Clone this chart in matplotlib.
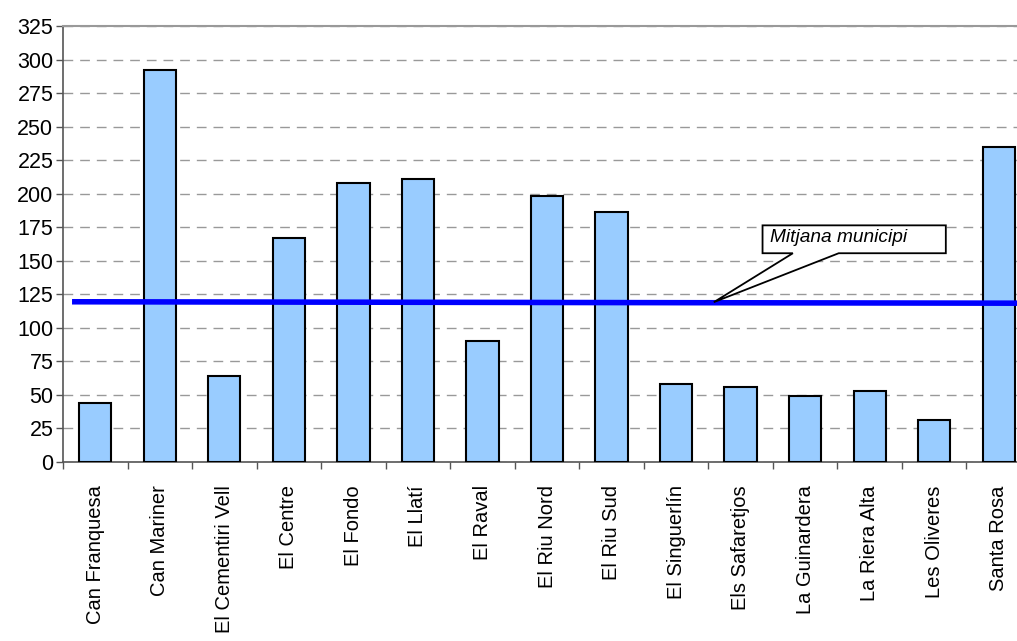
import matplotlib
matplotlib.use("Agg")
import matplotlib.pyplot as plt
from matplotlib.patches import Polygon
import numpy as np

plt.rcParams['font.family'] = ['Liberation Sans', 'DejaVu Sans']

categories = ["Can Franquesa", "Can Mariner", "El Cementiri Vell", "El Centre",
              "El Fondo", "El Llatí", "El Raval", "El Riu Nord", "El Riu Sud",
              "El Singuerlín", "Els Safaretjos", "La Guinardera", "La Riera Alta",
              "Les Oliveres", "Santa Rosa"]
values = [44, 292, 64, 167, 208, 211, 90, 198, 186, 58, 56, 49, 53, 31, 235]
mitjana_start = 119.3
mitjana_end = 118.2
yticks = list(range(0, 326, 25))

W, H = 1017, 641
fig = plt.figure(figsize=(W / 100, H / 100), dpi=100)
left, right, top, bottom = 63, 1031, 26, 461.7
ax = fig.add_axes([left / W, 1 - bottom / H, (right - left) / W, (bottom - top) / H])

x = np.arange(len(categories))
ax.bar(x, values, width=0.5, color="#99ccff", edgecolor="black", linewidth=1.5, zorder=3)

ax.set_xlim(-0.5, len(categories) - 0.5)
ax.set_ylim(0, 325)
ax.set_yticks(yticks)
ax.set_yticklabels([str(v) for v in yticks], fontsize=15.5)
ax.yaxis.grid(True, linestyle=(0, (7, 5)), color="#999999", linewidth=1, zorder=0)
ax.tick_params(axis='y', direction='out', length=5, width=1, color="#555555", pad=2)

ax.set_xticks(x)
ax.set_xticklabels(categories, rotation=90, fontsize=14.5)
ax.tick_params(axis='x', length=0, pad=17)
ax.set_xticks(np.arange(len(categories) + 1) - 0.5, minor=True)
ax.tick_params(axis='x', which='minor', direction='out', length=5, width=1, color="#555555")

for s in ['left', 'bottom']:
    ax.spines[s].set_color("#555555")
    ax.spines[s].set_linewidth(1.2)
ax.spines['top'].set_color("#999999")
ax.spines['top'].set_linewidth(1.5)
ax.spines['right'].set_visible(False)

# average line
ax.plot([-0.36, 14.75], [mitjana_start, mitjana_end], color="#0000ff", linewidth=4, zorder=4,
        solid_capstyle='butt')

# callout
bx0, bx1, by0, by1 = 10.34, 13.18, 155.5, 176.3
tip = (9.585, 119.0)
poly = Polygon([(bx0, by1), (bx1, by1), (bx1, by0), (11.52, by0), tip, (10.81, by0), (bx0, by0)],
               closed=True, facecolor="white", edgecolor="black", linewidth=1.3, zorder=5)
ax.add_patch(poly)
ax.text(bx0 + 0.12, (by0 + by1) / 2 + 1, "Mitjana municipi", fontsize=13.8, style='italic',
        ha='left', va='center', zorder=6)

fig.savefig("out.png", dpi=100)
